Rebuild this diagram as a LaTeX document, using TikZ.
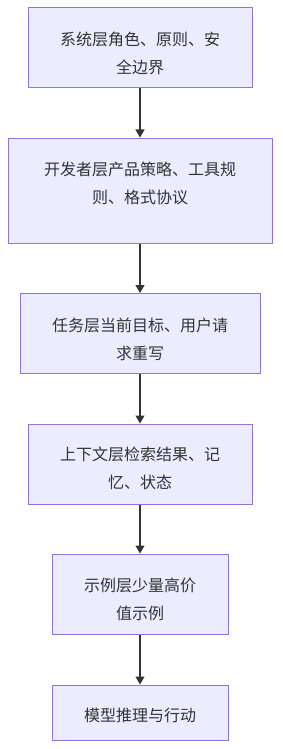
\documentclass[tikz,border=0pt]{standalone}
\usepackage{fontspec}
\newfontfamily\cjk{Noto Sans CJK SC}
\usetikzlibrary{arrows.meta}
\definecolor{boxfill}{HTML}{ECECFF}
\definecolor{boxline}{HTML}{9370DB}
\definecolor{ink}{HTML}{333333}
\tikzset{
  layerbox/.style={draw=boxline, fill=boxfill, line width=1pt, inner sep=0pt},
  layertext/.style={text=ink, align=center, inner sep=0pt, font=\cjk\fontsize{16pt}{28pt}\selectfont},
  flow/.style={draw=ink, line width=1.2pt, -{Triangle[length=8pt,width=9pt]}},
}
\begin{document}
\begin{tikzpicture}[x=1pt,y=-1pt]
\useasboundingbox (0,0) rectangle (282,749);
\node[layerbox, minimum width=224pt, minimum height=80pt] (b1) at (140,48) {};
\node[layerbox, minimum width=264pt, minimum height=105pt] (b2) at (140,190.5) {};
\node[layerbox, minimum width=240pt, minimum height=80pt] (b3) at (140,333.5) {};
\node[layerbox, minimum width=224pt, minimum height=80pt] (b4) at (140,464) {};
\node[layerbox, minimum width=176pt, minimum height=80pt] (b5) at (140,594) {};
\node[layerbox, minimum width=176pt, minimum height=55pt] (b6) at (140,712.5) {};
\node[layertext] (t1) at (140,53) {系统层角色、原则、安\\全边界};
\node[layertext] (t2) at (140,183.5) {开发者层产品策略、工具规\\则、格式协议};
\node[layertext] (t3) at (140,339) {任务层当前目标、用户请\\求重写};
\node[layertext] (t4) at (140,468.5) {上下文层检索结果、记\\忆、状态};
\node[layertext] (t5) at (140,599) {示例层少量高价\\值示例};
\node[layertext] (t6) at (140,715) {模型推理与行动};
\draw[flow] (b1) -- (b2);
\draw[flow] (b2) -- (b3);
\draw[flow] (b3) -- (b4);
\draw[flow] (b4) -- (b5);
\draw[flow] (b5) -- (b6);
\end{tikzpicture}
\end{document}
